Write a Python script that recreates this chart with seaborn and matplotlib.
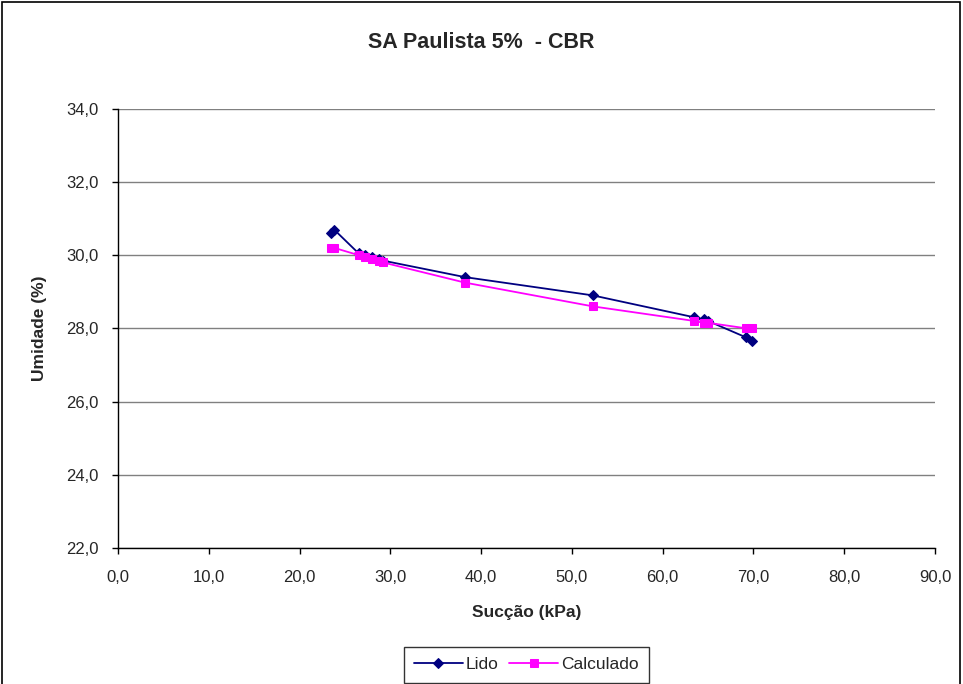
import matplotlib
matplotlib.use("Agg")
import matplotlib.pyplot as plt
from matplotlib.ticker import FuncFormatter, MultipleLocator
from matplotlib.patches import Rectangle
import pandas as pd
import seaborn as sns

sns.set_theme(style="white")
plt.rcParams['font.family'] = ['Liberation Sans', 'DejaVu Sans']

# dados
succao = [23.5, 23.8, 26.5, 27.2, 28.0, 28.7, 29.2, 38.2, 52.3, 63.5, 64.5, 65.0, 69.2, 69.8]
umid_lido = [30.6, 30.7, 30.05, 30.0, 29.95, 29.9, 29.85, 29.4, 28.9, 28.3, 28.25, 28.2, 27.75, 27.65]
umid_calc = [30.2, 30.2, 30.0, 29.95, 29.9, 29.85, 29.8, 29.25, 28.6, 28.2, 28.15, 28.15, 28.0, 28.0]

df = pd.DataFrame({'succao': succao, 'Lido': umid_lido, 'Calculado': umid_calc})

fig = plt.figure(figsize=(9.63, 6.84), dpi=100)
ax = fig.add_axes([0.1225, 0.199, 0.8485, 0.642])

sns.lineplot(data=df, x='succao', y='Lido', ax=ax, color='#000080', marker='D',
             markersize=5.5, markeredgecolor='#000080', linewidth=1.3, label='Lido', sort=False)
sns.lineplot(data=df, x='succao', y='Calculado', ax=ax, color='#FF00FF', marker='s',
             markersize=6, markeredgecolor='#FF00FF', linewidth=1.3, label='Calculado', sort=False)

ax.set_xlim(0, 90)
ax.set_ylim(22, 34)
ax.xaxis.set_major_locator(MultipleLocator(10))
ax.yaxis.set_major_locator(MultipleLocator(2))
fmt = FuncFormatter(lambda v, p: f"{v:.1f}".replace('.', ','))
ax.xaxis.set_major_formatter(fmt)
ax.yaxis.set_major_formatter(fmt)
ax.tick_params(axis='both', direction='out', length=4, width=1, color='black',
               labelsize=12, bottom=True, left=True)
ax.tick_params(axis='x', pad=12)
ax.tick_params(axis='y', pad=10)

ax.grid(axis='y', color='#808080', linewidth=1)
ax.set_axisbelow(True)
for s in ['top', 'right']:
    ax.spines[s].set_visible(False)
for s in ['left', 'bottom']:
    ax.spines[s].set_color('black')
    ax.spines[s].set_linewidth(1)

ax.set_xlabel('Sucção (kPa)', fontsize=12.5, fontweight='bold', labelpad=14)
ax.set_ylabel('Umidade (%)', fontsize=12.5, fontweight='bold', labelpad=14)
fig.suptitle('SA Paulista 5%  - CBR', fontsize=15.5, fontweight='bold', y=0.953)

leg = ax.legend(loc='upper center', bbox_to_anchor=(0.5, -0.2255), ncol=2, frameon=True,
                fontsize=12.5, fancybox=False, edgecolor='black', handlelength=2.8,
                columnspacing=0.6, handletextpad=0.2, borderpad=0.6, borderaxespad=0)
leg.get_frame().set_linewidth(1)

# borda da área do gráfico
fig.patches.append(Rectangle((0.002, -0.01), 0.995, 1.007, transform=fig.transFigure,
                             fill=False, edgecolor='black', linewidth=1.2))

fig.savefig('out.png', dpi=100)
